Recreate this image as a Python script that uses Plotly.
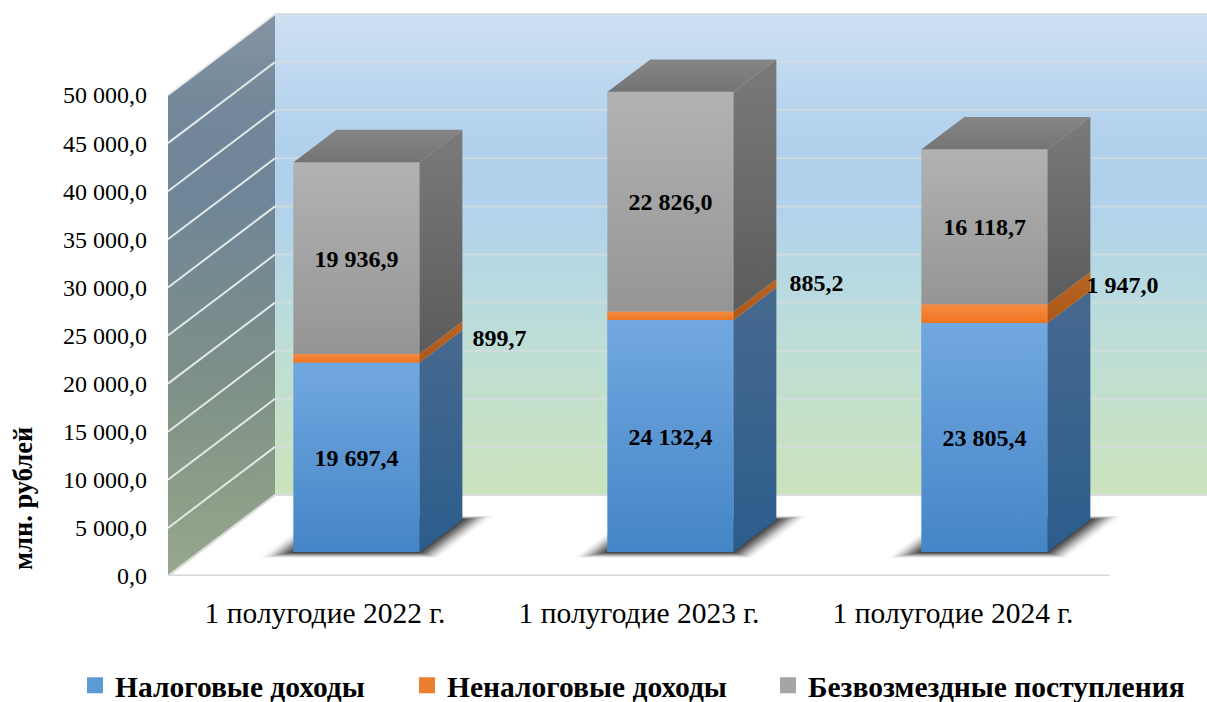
import plotly.graph_objects as go

# ---------- data ----------
CATEGORIES = ["1 полугодие 2022 г.", "1 полугодие 2023 г.", "1 полугодие 2024 г."]
TAX = [19697.4, 24132.4, 23805.4]
NON_TAX = [899.7, 885.2, 1947.0]
GRANTS = [19936.9, 22826.0, 16118.7]
SERIES_NAMES = ["Налоговые доходы", "Неналоговые доходы", "Безвозмездные поступления"]
Y_TICKS = [0, 5000, 10000, 15000, 20000, 25000, 30000, 35000, 40000, 45000, 50000]
AXIS_TITLE = "млн. рублей"

# ---------- projection of the pseudo-3D box (axis units) ----------
W, H = 1207, 702
PX_PER_SLOT = 314.0
PX_PER_VALUE = 9.62 / 1000
AX_LEFT, AX_BOTTOM = 168, 126
X_RANGE = [-0.5, -0.5 + (W - AX_LEFT) / PX_PER_SLOT]
Y_RANGE = [0, (H - AX_BOTTOM) / PX_PER_VALUE]
DEPTH_X = 107 / PX_PER_SLOT
DEPTH_Y = 81 / PX_PER_VALUE
D_FRONT, D_BACK = 0.295, 0.695
BAR_W = 126 / PX_PER_SLOT
FONT = "Liberation Serif"


def P(x, v, d):
    return x + d * DEPTH_X, v + d * DEPTH_Y


def poly(pts):
    xs, ys = zip(*pts)
    return list(xs) + [xs[0]], list(ys) + [ys[0]]


def fmt(v):
    s = f"{v:,.1f}"
    return s.replace(",", " ").replace(".", ",")


def gradient(c):
    return dict(type="vertical", colorscale=[[i / (len(c) - 1), k] for i, k in enumerate(c)])


fig = go.Figure()


def face(pts, colors, axes="x2", yaxis="y2"):
    xs, ys = poly(pts)
    kw = dict(fillgradient=gradient(colors)) if len(colors) > 1 else dict(fillcolor=colors[0])
    fig.add_trace(go.Scatter(x=xs, y=ys, mode="lines", fill="toself", line=dict(width=0),
                             xaxis=axes, yaxis=yaxis, hoverinfo="skip", showlegend=False, **kw))


def line(x, y, color, width, axes="x", yaxis="y"):
    fig.add_trace(go.Scatter(x=x, y=y, mode="lines", line=dict(color=color, width=width),
                             xaxis=axes, yaxis=yaxis, hoverinfo="skip", showlegend=False))


# ---------- walls on the primary axes ----------
LO, HI = Y_TICKS[0], Y_TICKS[-1]
XL, XR = X_RANGE[0], 2.5
face([P(XL, LO, 1), P(XR, LO, 1), P(XR, HI, 1), P(XL, HI, 1)],
     ["#cbe3bd", "#c5e1c7", "#bfded4", "#b8dae0", "#b2d3ea", "#b0d0ec", "#bcd7ef", "#cfe1f3"], "x", "y")
face([P(XL, LO, 0), P(XL, LO, 1), P(XL, HI, 1), P(XL, HI, 0)],
     ["#96a78c", "#8b9d88", "#7f9088", "#778b8f", "#6f8698", "#73889a", "#8594a2"], "x", "y")
for t in Y_TICKS[1:]:
    a, b, c = P(XL, t, 0), P(XL, t, 1), P(XR, t, 1)
    line([a[0], b[0]], [a[1], b[1]], "rgba(232,236,236,0.95)", 2)
    line([b[0], c[0]], [b[1], c[1]], "rgba(215,220,222,0.8)", 2)
a, b, c = P(XL, 0, 0), P(XL, 0, 1), P(XR, 0, 1)
line([a[0], b[0], c[0]], [a[1], b[1], c[1]], "#dcdcdc", 2.2)
line([XL, XR], [0, 0], "#d9d9d9", 3)

# ---------- bar shadows on the floor (soft edge from stacked translucent layers) ----------
SHADOW_LAYERS = 14
for i in range(len(CATEGORIES)):
    x0, x1 = i - BAR_W / 2, i + BAR_W / 2
    for k in range(SHADOW_LAYERS):
        e = 0.085 - k * 0.0065
        f, g = 0.075 - k * 0.0055, 0.05 - k * 0.0035
        face([P(x0 - e, 0, D_FRONT - f), P(x1 + e, 0, D_FRONT - f),
              P(x1 + e, 0, D_BACK + g), P(x0 - e, 0, D_BACK + g)],
             [f"rgba(0,0,0,{0.015 + 0.012 * k:.3f})"], "x", "y")

# ---------- stacked bars on the overlay axes ----------
FRONT = [["#4485c7", "#72a8e0"], ["#ef741f", "#f58c45"], ["#959595", "#b2b2b2"]]
SIDE = [["#2b5d8c", "#47698f"], ["#aa5718", "#bb6424"], ["#5c5c5c", "#7a7a7a"]]
TOP_COLOR = ["#747474", "#858585"]
SOLID = ["#5b9bd5", "#ed7d31", "#a5a5a5"]
values = [TAX, NON_TAX, GRANTS]

cum = [0.0] * len(CATEGORIES)
bases = []
for s, vals in enumerate(values):
    bases.append(list(cum))
    fig.add_trace(go.Bar(
        x=[P(i, 0, D_FRONT)[0] for i in range(len(vals))], y=vals,
        base=[cum[i] + D_FRONT * DEPTH_Y for i in range(len(vals))],
        width=BAR_W, marker=dict(color=SOLID[s], line=dict(width=0)),
        name=SERIES_NAMES[s], xaxis="x2", yaxis="y2", showlegend=False,
        customdata=[fmt(v) for v in vals], hovertemplate="%{customdata}<extra>%{fullData.name}</extra>"))
    cum = [cum[i] + vals[i] for i in range(len(vals))]

for i in range(len(CATEGORIES)):
    x0, x1 = i - BAR_W / 2, i + BAR_W / 2
    for s, vals in enumerate(values):
        lo, hi = bases[s][i], bases[s][i] + vals[i]
        face([P(x0, lo, D_FRONT), P(x1, lo, D_FRONT), P(x1, hi, D_FRONT), P(x0, hi, D_FRONT)], FRONT[s])
        face([P(x1, lo, D_FRONT), P(x1, lo, D_BACK), P(x1, hi, D_BACK), P(x1, hi, D_FRONT)], SIDE[s])
    top = cum[i]
    face([P(x0, top, D_FRONT), P(x1, top, D_FRONT), P(x1, top, D_BACK), P(x0, top, D_BACK)], TOP_COLOR)

# ---------- data labels ----------
LABEL_FONT = dict(family=FONT, size=24, color="black")
LABEL_DROP = 2.5 / PX_PER_VALUE
ORANGE_OFFSET = [(143 / PX_PER_SLOT, 20.5 / PX_PER_VALUE),
                 (146 / PX_PER_SLOT, 33 / PX_PER_VALUE),
                 (138 / PX_PER_SLOT, 29 / PX_PER_VALUE)]
for s, vals in enumerate(values):
    xs, ys = [], []
    for i in range(len(vals)):
        px, py = P(i, bases[s][i] + vals[i] / 2, D_FRONT)
        if s == 1:
            px += ORANGE_OFFSET[i][0]
            py += ORANGE_OFFSET[i][1]
        xs.append(px)
        ys.append(py - LABEL_DROP)
    fig.add_trace(go.Scatter(x=xs, y=ys, mode="text", text=[f"<b>{fmt(v)}</b>" for v in vals],
                             textposition="middle center", textfont=LABEL_FONT, xaxis="x2", yaxis="y2",
                             hoverinfo="skip", showlegend=False, cliponaxis=False))

# ---------- legend ----------
LEGEND_X = [(75 - AX_LEFT) / (W - AX_LEFT), (407 - AX_LEFT) / (W - AX_LEFT), (768 - AX_LEFT) / (W - AX_LEFT)]
legend_layout = {}
for s, name in enumerate(SERIES_NAMES):
    lid = "legend" if s == 0 else f"legend{s + 1}"
    fig.add_trace(go.Scatter(x=[None], y=[None], mode="markers", name=f"<b>{name}</b>", legend=lid,
                             marker=dict(symbol="square", size=16, color=SOLID[s]),
                             xaxis="x2", yaxis="y2", showlegend=True))
    legend_layout[lid] = dict(x=LEGEND_X[s], xanchor="left", yref="container", y=(H - 685.5) / H,
                              yanchor="middle", orientation="h", bgcolor="rgba(0,0,0,0)",
                              font=dict(family=FONT, size=29.5, color="black"), traceorder="normal")

ax_common = dict(showgrid=False, zeroline=False, showline=False, fixedrange=True)
fig.update_layout(
    width=W, height=H, autosize=False,
    margin=dict(l=AX_LEFT, r=0, t=0, b=AX_BOTTOM, pad=0),
    paper_bgcolor="white", plot_bgcolor="white", barmode="overlay",
    font=dict(family=FONT, color="black"),
    xaxis=dict(range=X_RANGE, tickvals=list(range(len(CATEGORIES))), ticktext=CATEGORIES,
               tickfont=dict(family=FONT, size=29.5), ticks="", ticklabelstandoff=16, **ax_common),
    yaxis=dict(range=Y_RANGE, tickvals=Y_TICKS, ticktext=[fmt(t) for t in Y_TICKS],
               tickfont=dict(family=FONT, size=24), ticks="", ticklabelstandoff=20, **ax_common),
    xaxis2=dict(range=X_RANGE, overlaying="x", visible=False, fixedrange=True),
    yaxis2=dict(range=Y_RANGE, overlaying="y", visible=False, fixedrange=True),
    annotations=[dict(text=f"<b>{AXIS_TITLE}</b>", textangle=-90, showarrow=False,
                      xref="paper", yref="paper",
                      x=(23 - AX_LEFT) / (W - AX_LEFT), y=(H - AX_BOTTOM - 499) / (H - AX_BOTTOM),
                      xanchor="center", yanchor="middle", font=dict(family=FONT, size=26.5))],
    **legend_layout,
)
fig.write_html("out.html", config={"displayModeBar": False},
               post_script="document.body.style.margin='0';document.documentElement.style.overflow='hidden';")
